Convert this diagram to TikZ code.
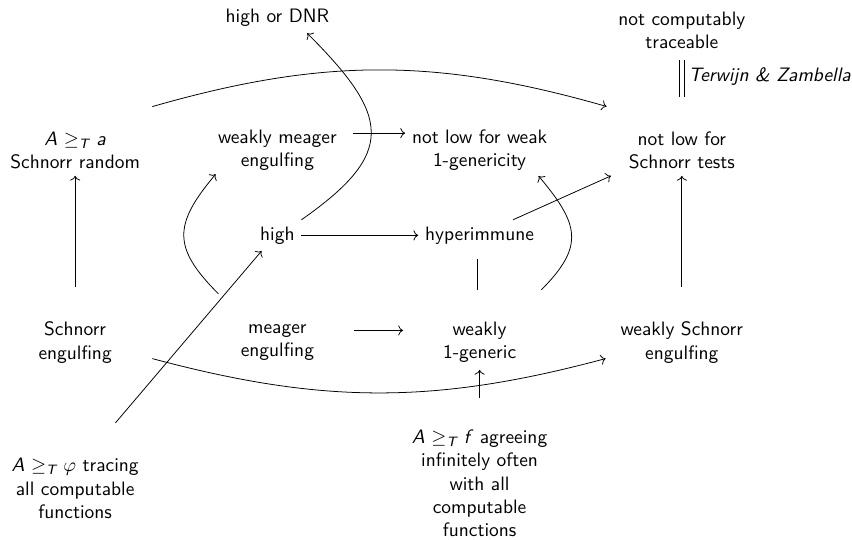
\documentclass[tikz,border=0pt]{standalone}
\usepackage{amsmath,amssymb}
\usepackage{tikz}
\usetikzlibrary{arrows.meta}
\usetikzlibrary{positioning}
\tikzset{>=To}
\tikzset{
    prop/.style = {align=center, font=\sffamily},
    imp/.style = {->},
    equiv/.style = {double, double distance=2pt},
}
\newcommand\geT{$\geq_{\text{\itshape T}}$}

\begin{document}
\begin{tikzpicture}[every node/.style={prop}, node distance=3.48cm and 3.66cm, on grid]
                \useasboundingbox (-1.36,2.72) rectangle (14.06,-7.04);
                \node (srand) {\textit{A} \geT{} \textit{a}\\ Schnorr random};
                \node (wmeager) [right=of srand] {weakly meager\\ engulfing};
                \node (nlweak) [right=of wmeager] {not low for weak\\ 1-genericity};
                \node (nlsch) [right=of nlweak] {not low for\\ Schnorr tests};
                \node (hdnr) [above=2.40cm of wmeager] {high or DNR};
                \node (nct) [above=2.17cm of nlsch] {not computably\\ traceable};
                \node (high) [below=1.54cm of wmeager] {high};
                \node (hyper) [right=of high] {hyperimmune};
                \node (sengulf) [below=of srand] {Schnorr\\ engulfing};
                \node (meager) [right=of sengulf] {meager\\ engulfing};
                \node (w1gen) [right=of meager] {weakly\\ 1-generic};
                \node (wsengulf) [right=of w1gen] {weakly Schnorr\\ engulfing};
                \node (tracing) [below=6.12cm of srand] {\textit{A} \geT{} $\varphi$ tracing\\ all computable\\ functions};
                \node (agreeing) [below=6.03cm of nlweak] {\textit{A} \geT{} \textit{f} agreeing\\ infinitely often\\ with all\\ computable\\ functions};
                % straight implications
                \draw[imp, shorten <=0.51cm] (sengulf) -- (srand);
                \draw[imp, shorten <=0.51cm] (wsengulf) -- (nlsch);
                \draw[imp, shorten <=0.45cm] (agreeing) -- (w1gen);
                \draw[imp, shorten <=0.68cm] ([xshift=0.29cm]tracing.north) -- ([xshift=0.15cm]high.south west);
                \draw[imp] (high) -- (hyper);
                \draw[imp] (hyper.25) -- ([xshift=-0.2cm]nlsch.south west);
                \draw[imp, shorten <=0.17cm] ([yshift=0.31cm]wmeager.east) -- ([yshift=0.31cm]nlweak.west);
                \draw[imp, shorten <=0.6cm, shorten >=0.6cm] ([yshift=0.22cm]meager.east) -- ([yshift=0.22cm]w1gen.west);
                % equivalences
                \draw[equiv, shorten <=0.15cm, shorten >=0.46cm] (hyper) -- (w1gen);
                \draw[equiv, shorten <=0.08cm, shorten >=0.5cm] (nct) -- (nlsch)
                    node[pos=0.3, right, font=\sffamily\itshape] {Terwijn \& Zambella};
                % bent implications
                \draw[imp] ([shift={(0.1cm,0.33cm)}]srand.north east) to[bend left=16] ([shift={(-0.28cm,0.33cm)}]nlsch.north west);
                \draw[imp] ([shift={(0.61cm,-0.29cm)}]sengulf.east) to[bend right=15] ([shift={(-0.15cm,-0.29cm)}]wsengulf.west);
                \draw[imp] (high.north east) to[out=35, in=-45, looseness=1.6] ([xshift=0.54cm]hdnr.south);
                \draw[imp] ([shift={(-0.28cm,0.43cm)}]meager.north west) to[out=135, in=-130, looseness=1.4] ([shift={(0.08cm,0.06cm)}]wmeager.south west);
                \draw[imp] ([shift={(0.33cm,0.46cm)}]w1gen.north east) to[out=45, in=-50, looseness=1.4] ([shift={(-0.28cm,0.03cm)}]nlweak.south east);
            \end{tikzpicture}
\end{document}
